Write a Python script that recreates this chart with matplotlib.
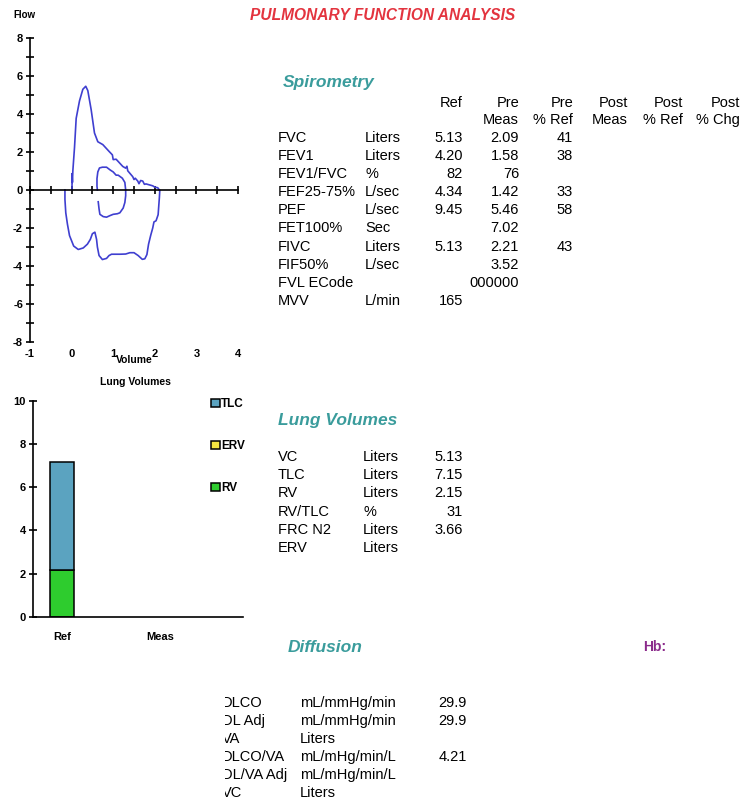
import numpy as np
import matplotlib
matplotlib.use("Agg")
import matplotlib.pyplot as plt

plt.rcParams['font.family'] = ['Liberation Sans', 'DejaVu Sans']
plt.rcParams['axes.unicode_minus'] = False

W, H = 745, 802

title = 'PULMONARY FUNCTION ANALYSIS'

# flow-volume loop (volume in L, flow in L/s)
exp_vol = [0.01, 0.01, 0.02, 0.03, 0.07, 0.11, 0.19, 0.27, 0.34, 0.39, 0.47, 0.55, 0.63,
           0.75, 0.91, 0.98, 1.0, 1.07, 1.23, 1.3, 1.33, 1.35, 1.47, 1.5, 1.53, 1.59, 1.62,
           1.66, 1.71, 1.75, 1.79, 1.95, 2.0, 2.07, 2.11]
exp_flow = [0.0, 0.86, 0.4, 1.01, 2.24, 3.77, 4.69, 5.3, 5.46, 5.23, 4.23, 3.0, 2.54,
            2.39, 2.01, 1.85, 1.6, 1.62, 1.24, 1.15, 1.25, 1.01, 0.7, 0.55, 0.62, 0.47, 0.33,
            0.5, 0.47, 0.3, 0.32, 0.22, 0.15, 0.12, 0.0]
insp_vol = [2.11, 2.12, 2.11, 2.09, 2.08, 2.03, 1.98, 1.95, 1.9, 1.85, 1.81, 1.76, 1.7,
            1.6, 1.5, 1.4, 1.3, 1.16, 0.96, 0.9, 0.84, 0.74, 0.66, 0.62, 0.6, 0.56, 0.5,
            0.45, 0.38, 0.28, 0.16, 0.05, -0.05, -0.1, -0.14, -0.16, -0.16]
insp_flow = [0.0, -0.02, -0.4, -1.0, -1.3, -1.62, -1.68, -2.0, -2.4, -2.85, -3.4, -3.62, -3.65,
             -3.45, -3.3, -3.3, -3.37, -3.38, -3.38, -3.45, -3.6, -3.66, -3.45, -3.0, -2.6, -2.22, -2.3,
             -2.6, -2.85, -3.05, -3.13, -2.95, -2.4, -1.8, -1.2, -0.5, 0.0]
tidal_vol = [0.64, 0.66, 0.68, 0.76, 0.84, 0.92, 1.0, 1.1, 1.16, 1.24, 1.28, 1.3, 1.3,
             1.28, 1.22, 1.12, 1.07, 1.0, 0.93, 0.84, 0.74, 0.67, 0.63, 0.61, 0.61, 0.62]
tidal_flow = [-0.62, -1.0, -1.28, -1.4, -1.43, -1.35, -1.28, -1.25, -1.2, -0.95, -0.66, -0.3, 0.0,
              0.4, 0.62, 0.78, 0.78, 0.95, 1.05, 1.2, 1.2, 1.16, 0.95, 0.6, 0.2, 0.0]

# spirometry table
spiro_cols = [('Ref', ''), ('Pre', 'Meas'), ('Pre', '% Ref'), ('Post', 'Meas'), ('Post', '% Ref'), ('Post', '% Chg')]
spiro_names = ['FVC', 'FEV1', 'FEV1/FVC', 'FEF25-75%', 'PEF', 'FET100%', 'FIVC', 'FIF50%', 'FVL ECode', 'MVV']
spiro_units = ['Liters', 'Liters', '%', 'L/sec', 'L/sec', 'Sec', 'Liters', 'L/sec', '', 'L/min']
spiro_ref = ['5.13', '4.20', '82', '4.34', '9.45', '', '5.13', '', '', '165']
spiro_pre = ['2.09', '1.58', '76', '1.42', '5.46', '7.02', '2.21', '3.52', '000000', '']
spiro_pct = ['41', '38', '', '33', '58', '', '43', '', '', '']

# lung volumes
lv_cats = ['Ref', 'Meas']
lv_tlc = [7.15, np.nan]
lv_erv = [np.nan, np.nan]
lv_rv = [2.15, np.nan]
lv_names = ['VC', 'TLC', 'RV', 'RV/TLC', 'FRC N2', 'ERV']
lv_units = ['Liters', 'Liters', 'Liters', '%', 'Liters', 'Liters']
lv_values = ['5.13', '7.15', '2.15', '31', '3.66', '']

# diffusion
dl_names = ['DLCO', 'DL Adj', 'VA', 'DLCO/VA', 'DL/VA Adj', 'VC']
dl_units = ['mL/mmHg/min', 'mL/mmHg/min', 'Liters', 'mL/mHg/min/L', 'mL/mHg/min/L', 'Liters']
dl_values = ['29.9', '29.9', '', '4.21', '', '']

teal = '#3a9c9c'
line_c = '#3f3fd0'


def px(x, y):
    return x / W, 1 - y / H


fig = plt.figure(figsize=(W / 100, H / 100), dpi=100)

fig.text(*px(383, 15), title, color='#e3343f', fontsize=11.2, fontweight='bold',
         fontstyle='italic', ha='center', va='center')

# ---- flow volume loop
ax1 = fig.add_axes([30 / W, 1 - 342 / H, 208 / W, 304 / H])
ax1.plot(exp_vol, exp_flow, color=line_c, lw=1.2)
ax1.plot(insp_vol, insp_flow, color=line_c, lw=1.2)
ax1.plot(tidal_vol, tidal_flow, color=line_c, lw=1.2)
ax1.set_xlim(-1, 4)
ax1.set_ylim(-8, 8)
for s in ['top', 'right']:
    ax1.spines[s].set_visible(False)
ax1.spines['bottom'].set_position(('data', 0))
ax1.spines['bottom'].set_linewidth(1.2)
ax1.spines['left'].set_linewidth(1.2)
ax1.set_xticks(np.arange(-1, 4.01, 0.5))
ax1.tick_params(axis='x', direction='inout', length=6, width=1.2, labelbottom=False)
ax1.set_yticks(range(-8, 9, 2))
ax1.set_yticks(range(-7, 8, 2), minor=True)
ax1.tick_params(axis='y', which='both', direction='inout', length=6, width=1.2, labelsize=8, pad=2)
for lab in ax1.get_yticklabels():
    lab.set_fontweight('bold')
sec = ax1.secondary_xaxis('bottom')
sec.set_xticks(range(-1, 5))
sec.tick_params(length=0, labelsize=8, pad=5)
sec.spines['bottom'].set_visible(False)
for lab in sec.get_xticklabels():
    lab.set_fontweight('bold')
ax1.text(0.5, -0.06, 'Volume', transform=ax1.transAxes, ha='center', va='center',
         fontsize=7.5, fontweight='bold')
fig.text(*px(13, 15), 'Flow', fontsize=7, fontweight='bold', va='center')
fig.text(*px(135, 382), 'Lung Volumes', fontsize=7.5, fontweight='bold', ha='center', va='center')

# ---- lung volume bars
ax2 = fig.add_axes([33 / W, 1 - 616.7 / H, 210 / W, 216 / H])
xpos = np.arange(len(lv_cats))
tlc = np.array(lv_tlc)
rv = np.array(lv_rv)
b_rv = ax2.bar(xpos, rv, width=0.245, color='#2ecc2e', edgecolor='black', lw=1.1)
b_erv = ax2.bar(xpos, lv_erv, width=0.245, color='#f5e642', edgecolor='black', lw=1.1)
b_tlc = ax2.bar(xpos, tlc - rv, bottom=rv, width=0.245, color='#5ba3c0', edgecolor='black', lw=1.1)
ax2.set_xlim(-0.3, 1.85)
ax2.set_ylim(0, 10)
for s in ['top', 'right']:
    ax2.spines[s].set_visible(False)
ax2.spines['bottom'].set_linewidth(1.2)
ax2.spines['left'].set_linewidth(1.2)
ax2.set_xticks(xpos, lv_cats)
ax2.tick_params(axis='x', length=0, labelsize=8, pad=11)
ax2.set_yticks(range(0, 11, 2))
ax2.tick_params(axis='y', direction='inout', length=6, width=1.2, labelsize=8, pad=2)
for lab in ax2.get_xticklabels() + ax2.get_yticklabels():
    lab.set_fontweight('bold')
leg = ax2.legend([b_tlc, b_erv, b_rv], ['TLC', 'ERV', 'RV'], loc='upper left',
                 bbox_to_anchor=px(211, 398), bbox_transform=fig.transFigure,
                 frameon=False, fontsize=8.5, handlelength=0.72, handleheight=0.72,
                 handletextpad=0.15, labelspacing=2.55, borderpad=0, borderaxespad=0)
for t in leg.get_texts():
    t.set_fontweight('bold')

# ---- spirometry table
fs = 10.5
fig.text(*px(283, 82), 'Spirometry', color=teal, fontsize=12.5, fontweight='bold',
         fontstyle='italic', va='center')
col_right = [463, 519, 573, 628, 683, 740]
for (h1, h2), xr in zip(spiro_cols, col_right):
    fig.text(*px(xr, 103), h1, fontsize=fs, ha='right', va='center')
    if h2:
        fig.text(*px(xr, 120), h2, fontsize=fs, ha='right', va='center')
for i, name in enumerate(spiro_names):
    y = 138 + i * 18.1
    fig.text(*px(278, y), name, fontsize=fs, va='center')
    fig.text(*px(365, y), spiro_units[i], fontsize=fs, va='center')
    fig.text(*px(463, y), spiro_ref[i], fontsize=fs, ha='right', va='center')
    fig.text(*px(519, y), spiro_pre[i], fontsize=fs, ha='right', va='center')
    fig.text(*px(573, y), spiro_pct[i], fontsize=fs, ha='right', va='center')

# ---- lung volumes table
fig.text(*px(278, 420), 'Lung Volumes', color=teal, fontsize=12.5, fontweight='bold',
         fontstyle='italic', va='center')
for i, name in enumerate(lv_names):
    y = 457 + i * 18.2
    fig.text(*px(278, y), name, fontsize=fs, va='center')
    fig.text(*px(363, y), lv_units[i], fontsize=fs, va='center')
    fig.text(*px(463, y), lv_values[i], fontsize=fs, ha='right', va='center')

# ---- diffusion table (left edge clipped as on the printout)
fig.text(*px(288, 647), 'Diffusion', color=teal, fontsize=12.5, fontweight='bold',
         fontstyle='italic', va='center')
fig.text(*px(643, 647), 'Hb:', color='#8b2a8b', fontsize=10, fontweight='bold', va='center')
ax3 = fig.add_axes([225 / W, 0, 300 / W, 1 - 690 / H])
ax3.set_axis_off()
ax3.set_xlim(225, 525)
ax3.set_ylim(802, 690)
for i, name in enumerate(dl_names):
    y = 703 + i * 18
    ax3.text(222, y, name, fontsize=fs, va='center', clip_on=True)
    ax3.text(300, y, dl_units[i], fontsize=fs, va='center')
    ax3.text(467, y, dl_values[i], fontsize=fs, ha='right', va='center')

fig.savefig('out.png', dpi=100)
